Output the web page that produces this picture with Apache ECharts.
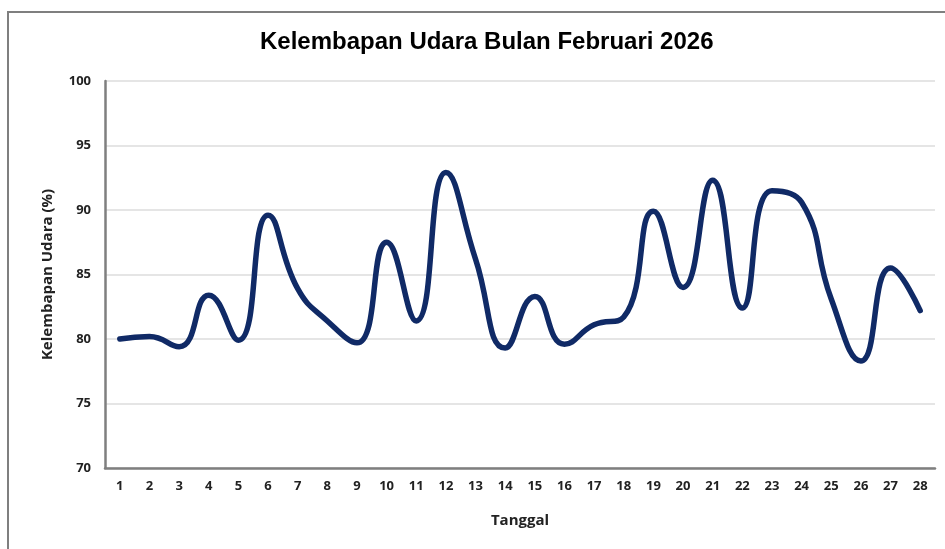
<!DOCTYPE html>
<html>
<head>
<meta charset="utf-8">
<script src="https://cdn.jsdelivr.net/npm/echarts@6/dist/echarts.min.js"></script>
<style>
  html, body { margin: 0; padding: 0; background: #fff; }
  #main { width: 945px; height: 549px; }
</style>
</head>
<body>
<div id="main"></div>
<script>
// tanggal (hari ke-) bulan Februari 2026
var tanggal = ["1","2","3","4","5","6","7","8","9","10","11","12","13","14","15","16","17","18","19","20","21","22","23","24","25","26","27","28"];
// kelembapan udara (%)
var kelembapan = [80.0, 80.2, 79.4, 83.4, 79.9, 89.6, 83.9, 81.4, 79.7, 87.5, 81.4, 92.9, 86.2, 79.3,
                  83.3, 79.6, 81.1, 81.7, 89.9, 84.0, 92.3, 82.4, 91.5, 90.6, 83.1, 78.3, 85.5, 82.2];
var yTicks = [70, 75, 80, 85, 90, 95, 100];

var myChart = echarts.init(document.getElementById("main"));
myChart.setOption({
  animation: false,
  backgroundColor: "#fff",
  graphic: [{
    type: "rect",
    shape: { x: 8, y: 12, width: 960, height: 560 },
    style: { fill: "none", stroke: "#7f7f7f", lineWidth: 2 },
    silent: true
  }],
  title: {
    text: "Kelembapan Udara Bulan Februari 2026",
    left: 255,
    top: 25,
    textStyle: { fontFamily: "Liberation Sans", fontSize: 24, fontWeight: "bold", color: "#000" }
  },
  grid: { left: 105, right: 10, top: 81, bottom: 81 },
  xAxis: {
    type: "category",
    data: tanggal,
    boundaryGap: true,
    name: "Tanggal",
    nameLocation: "middle",
    nameGap: 45,
    nameTextStyle: { fontFamily: "Open Sans", fontSize: 15, fontWeight: "bold", color: "#222" },
    axisLine: { lineStyle: { color: "#7f7f7f", width: 2.5 } },
    axisTick: { show: false },
    axisLabel: { fontFamily: "Open Sans", fontSize: 13, fontWeight: "bold", color: "#222", margin: 12, interval: 0 }
  },
  yAxis: {
    type: "value",
    min: yTicks[0],
    max: yTicks[yTicks.length - 1],
    interval: 5,
    name: "Kelembapan Udara (%)",
    nameLocation: "middle",
    nameGap: 50,
    nameTextStyle: { fontFamily: "Open Sans", fontSize: 15, fontWeight: "bold", color: "#222" },
    axisLine: { show: true, lineStyle: { color: "#7f7f7f", width: 2.5 } },
    axisTick: { show: false },
    axisLabel: { fontFamily: "Open Sans", fontSize: 13, fontWeight: "bold", color: "#222", margin: 14 },
    splitLine: { lineStyle: { color: "#dcdcdc", width: 1.5 } }
  },
  series: [{
    name: "Kelembapan Udara",
    type: "line",
    data: kelembapan,
    smooth: 0.5,
    showSymbol: false,
    lineStyle: { color: "#102a66", width: 5.5, cap: "round", join: "round" }
  }]
});
</script>
</body>
</html>
